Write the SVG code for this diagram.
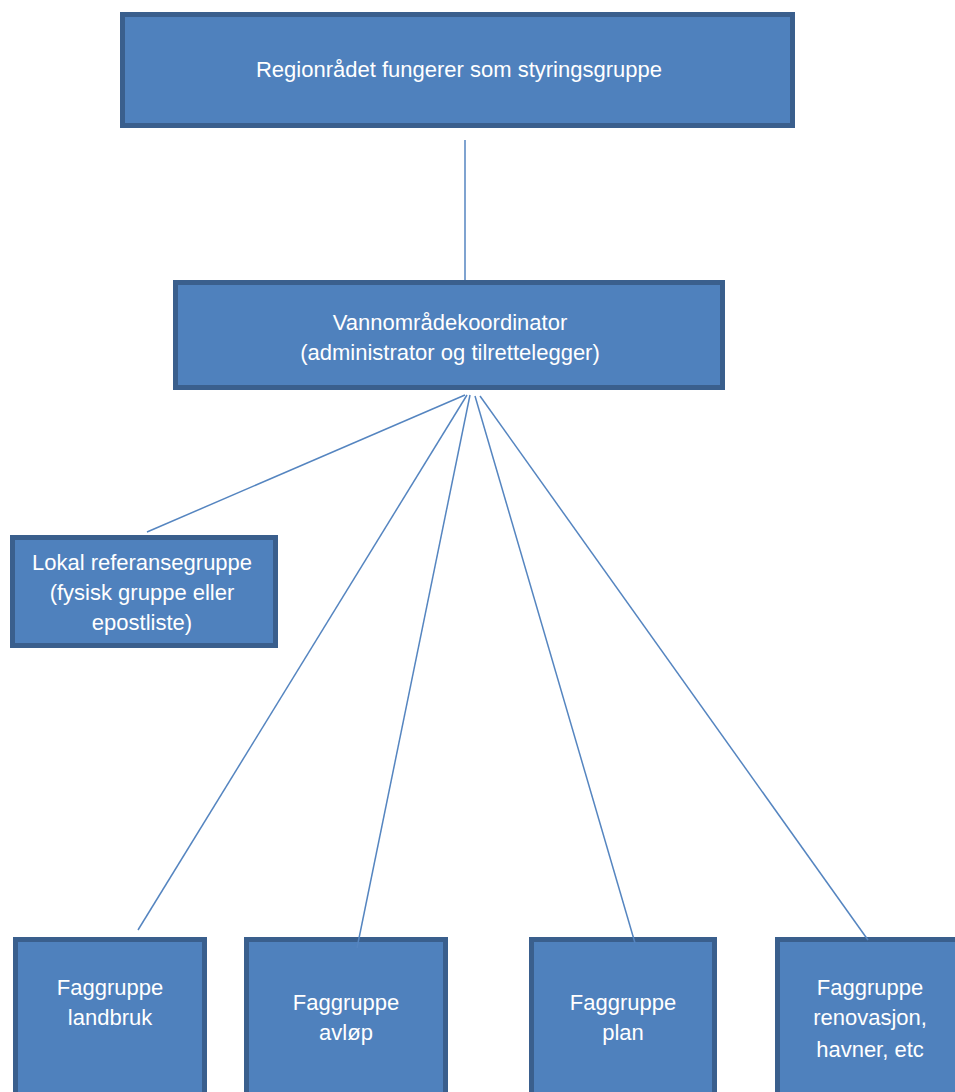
<svg xmlns="http://www.w3.org/2000/svg" width="955" height="1092" viewBox="0 0 955 1092">
<style>
.box{fill:#4F81BD;stroke:#3A5F8D;stroke-width:5}
.t{font-family:"Liberation Sans",Arial,sans-serif;font-size:22px;fill:#FFFFFF;text-anchor:middle}
.c{stroke:#5585C0;stroke-width:1.5;fill:none}
</style>
<rect width="955" height="1092" fill="#FFFFFF"/>
<g id="node-regionradet">
<rect class="box" x="122.5" y="14.5" width="670" height="111"/>
<text class="t" x="459" y="77">Regionrådet fungerer som styringsgruppe</text>
</g>
<g id="node-vannomradekoordinator">
<rect class="box" x="175.5" y="282.5" width="547" height="105"/>
<text class="t" x="450" y="330">Vannområdekoordinator</text>
<text class="t" x="450" y="360">(administrator og tilrettelegger)</text>
</g>
<g id="node-lokal">
<rect class="box" x="12.5" y="537.5" width="263" height="108"/>
<text class="t" x="142" y="570">Lokal referansegruppe</text>
<text class="t" x="142" y="600">(fysisk gruppe eller</text>
<text class="t" x="142" y="630">epostliste)</text>
</g>
<g id="node-landbruk">
<rect class="box" x="15.5" y="939.5" width="189" height="160"/>
<text class="t" x="110" y="995">Faggruppe</text>
<text class="t" x="110" y="1025">landbruk</text>
</g>
<g id="node-avlop">
<rect class="box" x="246.5" y="939.5" width="199" height="160"/>
<text class="t" x="346" y="1010">Faggruppe</text>
<text class="t" x="346" y="1040">avløp</text>
</g>
<g id="node-plan">
<rect class="box" x="531.5" y="939.5" width="183" height="160"/>
<text class="t" x="623" y="1010">Faggruppe</text>
<text class="t" x="623" y="1040">plan</text>
</g>
<g id="node-renovasjon">
<rect class="box" x="777.5" y="939.5" width="200" height="160"/>
<text class="t" x="870" y="995">Faggruppe</text>
<text class="t" x="870" y="1025">renovasjon,</text>
<text class="t" x="870" y="1057">havner, etc</text>
</g>
<g id="connectors">
<line class="c" x1="465" y1="140" x2="465" y2="280"/>
<line class="c" x1="465" y1="395" x2="147" y2="532"/>
<line class="c" x1="467" y1="395" x2="138" y2="930"/>
<line class="c" x1="470" y1="395" x2="357" y2="948"/>
<line class="c" x1="475" y1="396" x2="635" y2="943"/>
<line class="c" x1="480" y1="396" x2="868" y2="940"/>
</g>
</svg>
